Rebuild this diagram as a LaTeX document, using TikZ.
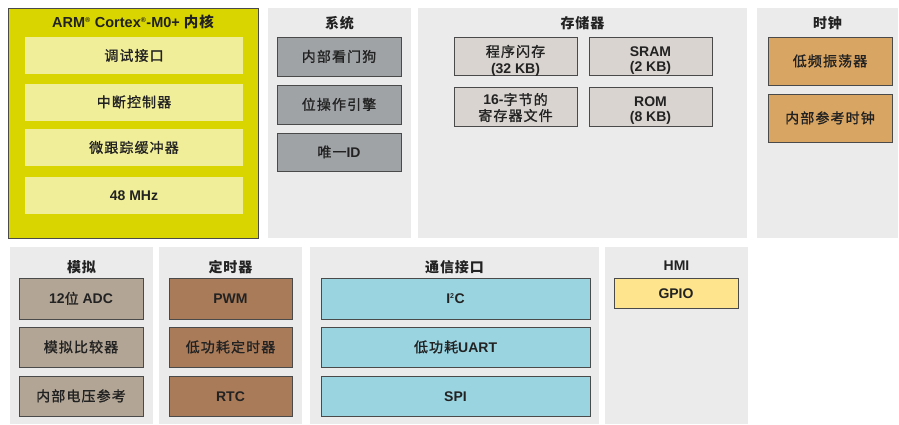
\documentclass[tikz,border=0pt]{standalone}
\usepackage{fontspec}
\setmainfont{Liberation Sans}
\newfontfamily\cjk[LetterSpace=8, FakeBold=1.2]{Noto Sans CJK SC}
\newfontfamily\cjkb[LetterSpace=6]{Noto Sans CJK SC}
\newcommand{\zh}[1]{{\cjk\mdseries #1}}
\newcommand{\zhb}[1]{{\cjkb\bfseries #1}}
\definecolor{panelgray}{HTML}{EBEBEB}
\definecolor{armfill}{HTML}{D8D500}
\definecolor{arminner}{HTML}{F1EE9A}
\definecolor{sysfill}{HTML}{A0A3A6}
\definecolor{memfill}{HTML}{D9D4CF}
\definecolor{clkfill}{HTML}{D9A562}
\definecolor{anafill}{HTML}{B2A595}
\definecolor{timfill}{HTML}{A97B59}
\definecolor{comfill}{HTML}{9AD4E1}
\definecolor{gpiofill}{HTML}{FEE48C}
\definecolor{boxline}{HTML}{4A4A4A}
\definecolor{textc}{HTML}{222222}
\begin{document}
\begin{tikzpicture}[x=1pt,y=-1pt,
  font=\fontsize{14}{16}\selectfont\bfseries,
  panel/.style={fill=panelgray, draw=none, inner sep=0pt},
  box/.style={draw=boxline, line width=0.8pt, inner sep=0pt, align=center, text=textc},
  one/.style={text height=10.5pt, text depth=0pt},
  two/.style={inner sep=0pt, align=center, text=textc},
  ttl/.style={inner sep=0pt, text=textc, text height=10.5pt, text depth=0pt}]
\useasboundingbox[fill=white] (0,0) rectangle (899,424);
% ARM core
\node[box, fill=armfill, minimum width=250pt, minimum height=230pt] (armpanel) at (133,123) {};
\node[ttl, font=\fontsize{14.5}{16}\selectfont\bfseries] (armtitle) at (133,22) {ARM\textsuperscript{\scriptsize\textregistered} Cortex\textsuperscript{\scriptsize\textregistered}-M0+ \zhb{内核}};
\node[box, one, draw=none, fill=arminner, minimum width=218pt, minimum height=37pt] (dbg) at (134,55.5) {\zh{调试接口}};
\node[box, one, draw=none, fill=arminner, minimum width=218pt, minimum height=37pt] (nvic) at (134,102) {\zh{中断控制器}};
\node[box, one, draw=none, fill=arminner, minimum width=218pt, minimum height=37pt] (mtb) at (134,147.5) {\zh{微跟踪缓冲器}};
\node[box, one, draw=none, fill=arminner, minimum width=218pt, minimum height=37pt] (mhz) at (134,195.5) {48 MHz};
% System
\node[panel, minimum width=143pt, minimum height=230pt] (syspanel) at (339.5,123) {};
\node[ttl] (systitle) at (339.5,23) {\zhb{系统}};
\node[box, one, fill=sysfill, minimum width=124pt, minimum height=39pt] (wdog) at (339,56.5) {\zh{内部看门狗}};
\node[box, one, fill=sysfill, minimum width=124pt, minimum height=39pt] (bme) at (339,104.5) {\zh{位操作引擎}};
\node[box, one, fill=sysfill, minimum width=124pt, minimum height=38pt] (uid) at (339,152) {\zh{唯一}ID};
% Memory
\node[panel, minimum width=329pt, minimum height=230pt] (mempanel) at (582.5,123) {};
\node[ttl] (memtitle) at (582.5,23) {\zhb{存储器}};
\node[box, fill=memfill, minimum width=123pt, minimum height=38pt] (flash) at (515.5,56.5) {};
\node[two, font=\fontsize{14}{16.5}\selectfont\bfseries] (flashtxt) at ([yshift=-4pt]flash.center) {\zh{程序闪存}\\(32 KB)};
\node[box, fill=memfill, minimum width=123pt, minimum height=38pt] (sram) at (650.5,56.5) {};
\node[two, font=\fontsize{14}{15.5}\selectfont\bfseries] (sramtxt) at ([yshift=-4pt]sram.center) {SRAM\\(2 KB)};
\node[box, fill=memfill, minimum width=123pt, minimum height=39pt] (regf) at (515.5,107) {};
\node[two] (regftxt) at ([yshift=-0.5pt]regf.center) {16-\zh{字节的}\\\zh{寄存器文件}};
\node[box, fill=memfill, minimum width=123pt, minimum height=39pt] (rom) at (650.5,107) {};
\node[two, font=\fontsize{14}{15}\selectfont\bfseries] (romtxt) at ([yshift=-3.5pt]rom.center) {ROM\\(8 KB)};
% Clock
\node[panel, minimum width=141pt, minimum height=230pt] (clkpanel) at (827.5,123) {};
\node[ttl] (clktitle) at (827.5,23) {\zhb{时钟}};
\node[box, one, fill=clkfill, minimum width=124pt, minimum height=48pt] (lfo) at (830,61) {\zh{低频振荡器}};
\node[box, one, fill=clkfill, minimum width=124pt, minimum height=48pt] (irc) at (830,118) {\zh{内部参考时钟}};
% Analog
\node[panel, minimum width=143pt, minimum height=177pt] (anapanel) at (81.5,335.5) {};
\node[ttl] (anatitle) at (81.5,267) {\zhb{模拟}};
\node[box, one, fill=anafill, minimum width=124pt, minimum height=41pt] (adc) at (81,298.5) {12\zh{位} ADC};
\node[box, one, fill=anafill, minimum width=124pt, minimum height=40pt] (cmp) at (81,347) {\zh{模拟比较器}};
\node[box, one, fill=anafill, minimum width=124pt, minimum height=40pt] (vref) at (81,396) {\zh{内部电压参考}};
% Timers
\node[panel, minimum width=143pt, minimum height=177pt] (timpanel) at (230.5,335.5) {};
\node[ttl] (timtitle) at (230.5,267) {\zhb{定时器}};
\node[box, one, fill=timfill, minimum width=123pt, minimum height=41pt] (pwm) at (230.5,298.5) {PWM};
\node[box, one, fill=timfill, minimum width=123pt, minimum height=40pt] (lpt) at (230.5,347) {\zh{低功耗定时器}};
\node[box, one, fill=timfill, minimum width=123pt, minimum height=40pt] (rtc) at (230.5,396) {RTC};
% Comms
\node[panel, minimum width=289pt, minimum height=177pt] (companel) at (454.5,335.5) {};
\node[ttl] (comtitle) at (454.5,267) {\zhb{通信接口}};
\node[box, one, fill=comfill, minimum width=269pt, minimum height=41pt] (i2c) at (455.5,298.5) {I\textsuperscript{\scriptsize 2}C};
\node[box, one, fill=comfill, minimum width=269pt, minimum height=40pt] (uart) at (455.5,347) {\zh{低功耗}UART};
\node[box, one, fill=comfill, minimum width=269pt, minimum height=40pt] (spi) at (455.5,396) {SPI};
% HMI
\node[panel, minimum width=143pt, minimum height=177pt] (hmipanel) at (676.5,335.5) {};
\node[ttl] (hmititle) at (676.5,265) {HMI};
\node[box, one, fill=gpiofill, minimum width=124pt, minimum height=30pt] (gpio) at (676,293) {GPIO};
\end{tikzpicture}
\end{document}
